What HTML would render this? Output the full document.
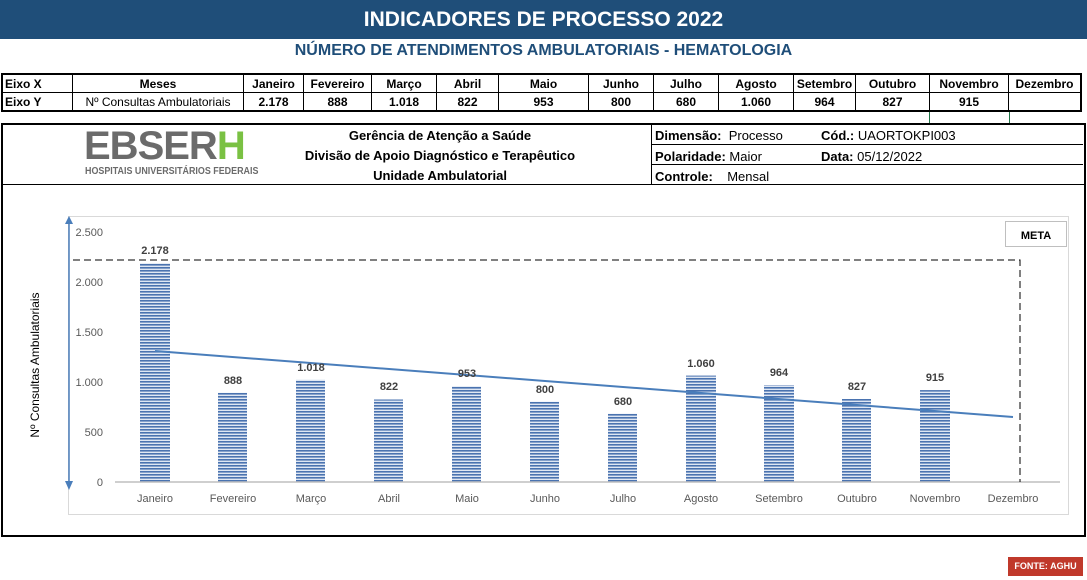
<!DOCTYPE html><html><head><style>
body{margin:0;width:1087px;height:580px;background:#fff;font-family:"Liberation Sans",sans-serif;position:relative;overflow:hidden}
.a{position:absolute}
table{border-collapse:collapse;position:absolute;left:1px;top:73px;font-size:12px;font-weight:bold}
td{border:1px solid #000;height:17px;padding:0;text-align:center}
</style></head><body>
<div class="a" style="left:0;top:0;width:1087px;height:39px;background:#1F4E79;color:#fff;font-size:21px;font-weight:bold;text-align:center;line-height:39px">INDICADORES DE PROCESSO 2022</div>
<div class="a" style="left:0;top:42px;width:1087px;text-align:center;color:#1F4E79;font-size:16px;font-weight:bold">NÚMERO DE ATENDIMENTOS AMBULATORIAIS - HEMATOLOGIA</div>
<table style="border:2px solid #000">
<tr><td style="width:67px;text-align:left;padding-left:2px">Eixo X</td><td style="width:170px">Meses</td><td style="width:59px">Janeiro</td><td style="width:67px">Fevereiro</td><td style="width:64px">Março</td><td style="width:61px">Abril</td><td style="width:89px">Maio</td><td style="width:64px">Junho</td><td style="width:64px">Julho</td><td style="width:74px">Agosto</td><td style="width:61px">Setembro</td><td style="width:73px">Outubro</td><td style="width:78px">Novembro</td><td style="width:71px">Dezembro</td></tr>
<tr><td style="text-align:left;padding-left:2px">Eixo Y</td><td style="font-weight:normal">Nº Consultas Ambulatoriais</td><td>2.178</td><td>888</td><td>1.018</td><td>822</td><td>953</td><td>800</td><td>680</td><td>1.060</td><td>964</td><td>827</td><td>915</td><td></td></tr>
</table>
<div class="a" style="left:929px;top:112px;width:79px;height:12px;border:1px solid #217346;border-top:none"></div>
<div class="a" style="left:1px;top:123px;width:1081px;height:410px;border:2px solid #000"></div>
<div class="a" style="left:1px;top:184px;width:1083px;border-top:1px solid #000"></div>
<div class="a" style="left:651px;top:124px;height:61px;border-left:1px solid #000"></div>
<div class="a" style="left:651px;top:144px;width:432px;border-top:1px solid #000"></div>
<div class="a" style="left:651px;top:164px;width:432px;border-top:1px solid #000"></div>
<div class="a" style="left:84px;top:124px;font-size:40px;font-weight:bold;letter-spacing:-1px;color:#6b6b6b;line-height:44px">EBSER<span style="color:#7ac143">H</span></div>
<div class="a" style="left:85px;top:165px;font-size:10.5px;font-weight:bold;color:#6b6b6b;transform:scaleX(.85);transform-origin:left">HOSPITAIS UNIVERSITÁRIOS FEDERAIS</div>
<div class="a" style="left:280px;top:126px;width:320px;text-align:center;font-size:13px;font-weight:bold;line-height:20px">Gerência de Atenção a Saúde<br>Divisão de Apoio Diagnóstico e Terapêutico<br>Unidade Ambulatorial</div>
<div class="a" style="left:655px;top:126px;font-size:13px;line-height:20.5px"><b>Dimensão:</b>&nbsp; Processo<br><b>Polaridade:</b> Maior<br><b>Controle:</b>&nbsp;&nbsp;&nbsp; Mensal</div>
<div class="a" style="left:821px;top:126px;font-size:13px;line-height:20.5px"><b>Cód.:</b> UAORTOKPI003<br><b>Data:</b> 05/12/2022</div>
<svg class="a" style="left:0;top:0" width="1087" height="580" font-family="Liberation Sans, sans-serif">
<defs><pattern id="p" width="4" height="3" patternUnits="userSpaceOnUse"><rect width="4" height="3" fill="#dfe7f3"/><rect width="4" height="1.6" fill="#4a73b0"/></pattern></defs>
<rect x="68.5" y="216.5" width="1000" height="298" fill="none" stroke="#d9d9d9"/>
<g font-size="11" fill="#595959" text-anchor="end">
<text x="103" y="236">2.500</text><text x="103" y="286">2.000</text><text x="103" y="336">1.500</text><text x="103" y="386">1.000</text><text x="103" y="436">500</text><text x="103" y="486">0</text></g>
<line x1="69" y1="222" x2="69" y2="484" stroke="#4a7ebb" stroke-width="1.5"/>
<polygon points="65,224 73,224 69,216" fill="#4a7ebb"/><polygon points="65,481 73,481 69,490" fill="#4a7ebb"/>
<text transform="translate(39,365) rotate(-90)" font-size="12" fill="#000" text-anchor="middle">Nº Consultas Ambulatoriais</text>
<g fill="url(#p)">
<rect x="140" y="263.3" width="30" height="218.7"/><rect x="218" y="392.8" width="29" height="89.2"/><rect x="296" y="379.8" width="29" height="102.2"/><rect x="374" y="399.5" width="29" height="82.5"/><rect x="452" y="386.3" width="29" height="95.7"/><rect x="530" y="401.7" width="29" height="80.3"/><rect x="608" y="413.7" width="29" height="68.3"/><rect x="686" y="375.6" width="30" height="106.4"/><rect x="764" y="385.2" width="30" height="96.8"/><rect x="842" y="399" width="29" height="83"/><rect x="920" y="390.1" width="30" height="91.9"/></g>
<line x1="115" y1="482" x2="1060" y2="482" stroke="#bfbfbf" stroke-width="1.5"/>
<line x1="155" y1="351" x2="1013" y2="417" stroke="#4a7ebb" stroke-width="2"/>
<path d="M73 260H1020V482" fill="none" stroke="#000" stroke-dasharray="7,4"/>
<rect x="1005.5" y="221.5" width="61" height="25" fill="#fff" stroke="#bfbfbf"/>
<text x="1036" y="239" font-size="11" font-weight="bold" text-anchor="middle">META</text>
<g font-size="11" font-weight="bold" fill="#404040" text-anchor="middle">
<text x="155" y="254">2.178</text><text x="233" y="384">888</text><text x="311" y="371">1.018</text><text x="389" y="390">822</text><text x="467" y="377">953</text><text x="545" y="393">800</text><text x="623" y="405">680</text><text x="701" y="367">1.060</text><text x="779" y="376">964</text><text x="857" y="390">827</text><text x="935" y="381">915</text></g>
<g font-size="11" fill="#595959" text-anchor="middle">
<text x="155" y="502">Janeiro</text><text x="233" y="502">Fevereiro</text><text x="311" y="502">Março</text><text x="389" y="502">Abril</text><text x="467" y="502">Maio</text><text x="545" y="502">Junho</text><text x="623" y="502">Julho</text><text x="701" y="502">Agosto</text><text x="779" y="502">Setembro</text><text x="857" y="502">Outubro</text><text x="935" y="502">Novembro</text><text x="1013" y="502">Dezembro</text></g>
</svg>
<div class="a" style="left:1008px;top:557px;width:75px;height:19px;background:#c0392b;color:#fff;font-size:9px;font-weight:bold;text-align:center;line-height:19px">FONTE: AGHU</div>
</body></html>
